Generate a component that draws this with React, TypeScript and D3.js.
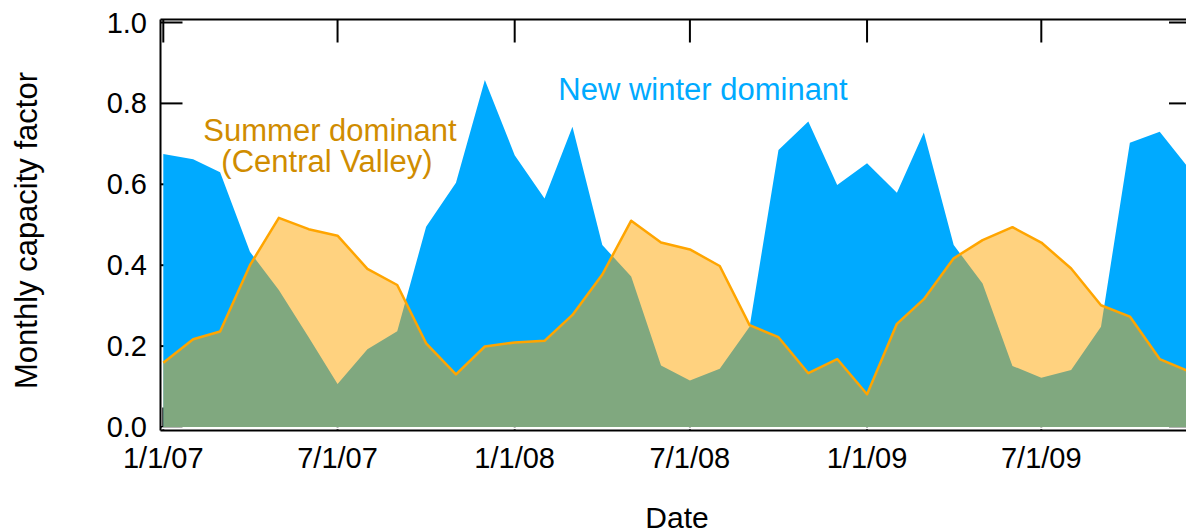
import React from 'react'
import * as d3 from 'd3'

// monthly values, Jan 2007 .. Dec 2009
const months = [
  '2007-01', '2007-02', '2007-03', '2007-04', '2007-05', '2007-06', '2007-07', '2007-08', '2007-09', '2007-10', '2007-11', '2007-12',
  '2008-01', '2008-02', '2008-03', '2008-04', '2008-05', '2008-06', '2008-07', '2008-08', '2008-09', '2008-10', '2008-11', '2008-12',
  '2009-01', '2009-02', '2009-03', '2009-04', '2009-05', '2009-06', '2009-07', '2009-08', '2009-09', '2009-10', '2009-11', '2009-12',
]
const winter = [
  0.675, 0.662, 0.630, 0.433, 0.339, 0.222, 0.106, 0.192, 0.237, 0.495, 0.604, 0.858,
  0.672, 0.565, 0.742, 0.450, 0.372, 0.152, 0.115, 0.144, 0.248, 0.685, 0.755, 0.598,
  0.652, 0.579, 0.728, 0.450, 0.355, 0.151, 0.122, 0.141, 0.248, 0.703, 0.730, 0.640,
]
const summer = [
  0.159, 0.217, 0.236, 0.400, 0.517, 0.489, 0.473, 0.391, 0.351, 0.207, 0.130, 0.199,
  0.209, 0.213, 0.277, 0.377, 0.510, 0.456, 0.439, 0.398, 0.252, 0.222, 0.133, 0.168,
  0.081, 0.255, 0.316, 0.417, 0.462, 0.494, 0.456, 0.392, 0.301, 0.273, 0.168, 0.138,
]
const xTickDates = ['2007-01', '2007-07', '2008-01', '2008-07', '2009-01', '2009-07']
const xTickLabels = ['1/1/07', '7/1/07', '1/1/08', '7/1/08', '1/1/09', '7/1/09']
const yTicks = [0, 0.2, 0.4, 0.6, 0.8, 1.0]

const parse = d3.timeParse('%Y-%m')
const FONT = '"Liberation Sans", Arial, Helvetica, sans-serif'
const BLUE = '#00aaff'
const ORANGE = '#ffa500'

const frame = { left: 160.5, right: 1191, top: 19.5, bottom: 430.5 }
const tickLen = 22

export default function App() {
  const x = d3.scaleTime()
    .domain([parse('2007-01')!, parse('2009-12')!])
    .range([163.3, 1188.6])
  const y = d3.scaleLinear().domain([0, 1]).range([427, 22.5])

  const dates = months.map(m => parse(m)!)

  const areaW = d3.area<number>()
    .x((d, i) => x(dates[i]))
    .y0(y(0))
    .y1(d => y(d))
  const areaS = d3.area<number>()
    .x((d, i) => x(dates[i]))
    .y0(y(0))
    .y1(d => y(d))
  const lineS = d3.line<number>()
    .x((d, i) => x(dates[i]))
    .y(d => y(d))

  return (
    <svg width={1186} height={532} style={{ position: 'absolute', left: 0, top: 0, background: '#fff' }}
      fontFamily={FONT}>
      {/* inward ticks, drawn under the fills */}
      <g stroke="#000" strokeWidth={2}>
        {yTicks.map(t => (
          <g key={'y' + t}>
            <line x1={frame.left} x2={frame.left + tickLen} y1={y(t)} y2={y(t)} />
            <line x1={frame.right} x2={frame.right - tickLen} y1={y(t)} y2={y(t)} />
          </g>
        ))}
        {xTickDates.map(d => (
          <g key={'x' + d}>
            <line x1={x(parse(d)!)} x2={x(parse(d)!)} y1={frame.top} y2={frame.top + 23} />
            <line x1={x(parse(d)!)} x2={x(parse(d)!)} y1={frame.bottom} y2={frame.bottom - 23} />
          </g>
        ))}
      </g>

      <path d={areaW(winter)!} fill={BLUE} />
      <path d={areaS(summer)!} fill={ORANGE} fillOpacity={0.5} />
      <path d={lineS(summer)!} fill="none" stroke={ORANGE} strokeWidth={2.5} strokeLinejoin="round" />

      {/* white gap above bottom frame */}
      <rect x={frame.left + 1} y={y(0) + 0.3} width={frame.right - frame.left} height={2} fill="#fff" />

      <g stroke="#000" strokeWidth={2} fill="none">
        <line x1={frame.left} x2={frame.left} y1={frame.top} y2={frame.bottom} />
        <line x1={frame.left} x2={frame.right} y1={frame.top} y2={frame.top} />
        <line x1={frame.left} x2={frame.right} y1={frame.bottom} y2={frame.bottom} />
        <line x1={frame.right} x2={frame.right} y1={frame.top} y2={frame.bottom} />
      </g>

      <g fontSize={29} fill="#000">
        {yTicks.map(t => (
          <text key={'yl' + t} x={147} y={y(t) + 10} textAnchor="end">{t.toFixed(1)}</text>
        ))}
        {xTickDates.map((d, i) => (
          <text key={'xl' + d} x={x(parse(d)!)} y={467.5} textAnchor="middle">{xTickLabels[i]}</text>
        ))}
      </g>

      <text x={677} y={528} fontSize={30} textAnchor="middle" fill="#000">Date</text>
      <text transform="translate(37,230.5) rotate(-90)" fontSize={31} textAnchor="middle" fill="#000">
        Monthly capacity factor
      </text>

      <text x={703} y={100} fontSize={31} textAnchor="middle" fill={BLUE}>New winter dominant</text>
      <text x={330} y={140.5} fontSize={31} textAnchor="middle" fill="#d08c00">
        <tspan x={330}>Summer dominant</tspan>
        <tspan x={327} dy={31}>(Central Valley)</tspan>
      </text>
    </svg>
  )
}
